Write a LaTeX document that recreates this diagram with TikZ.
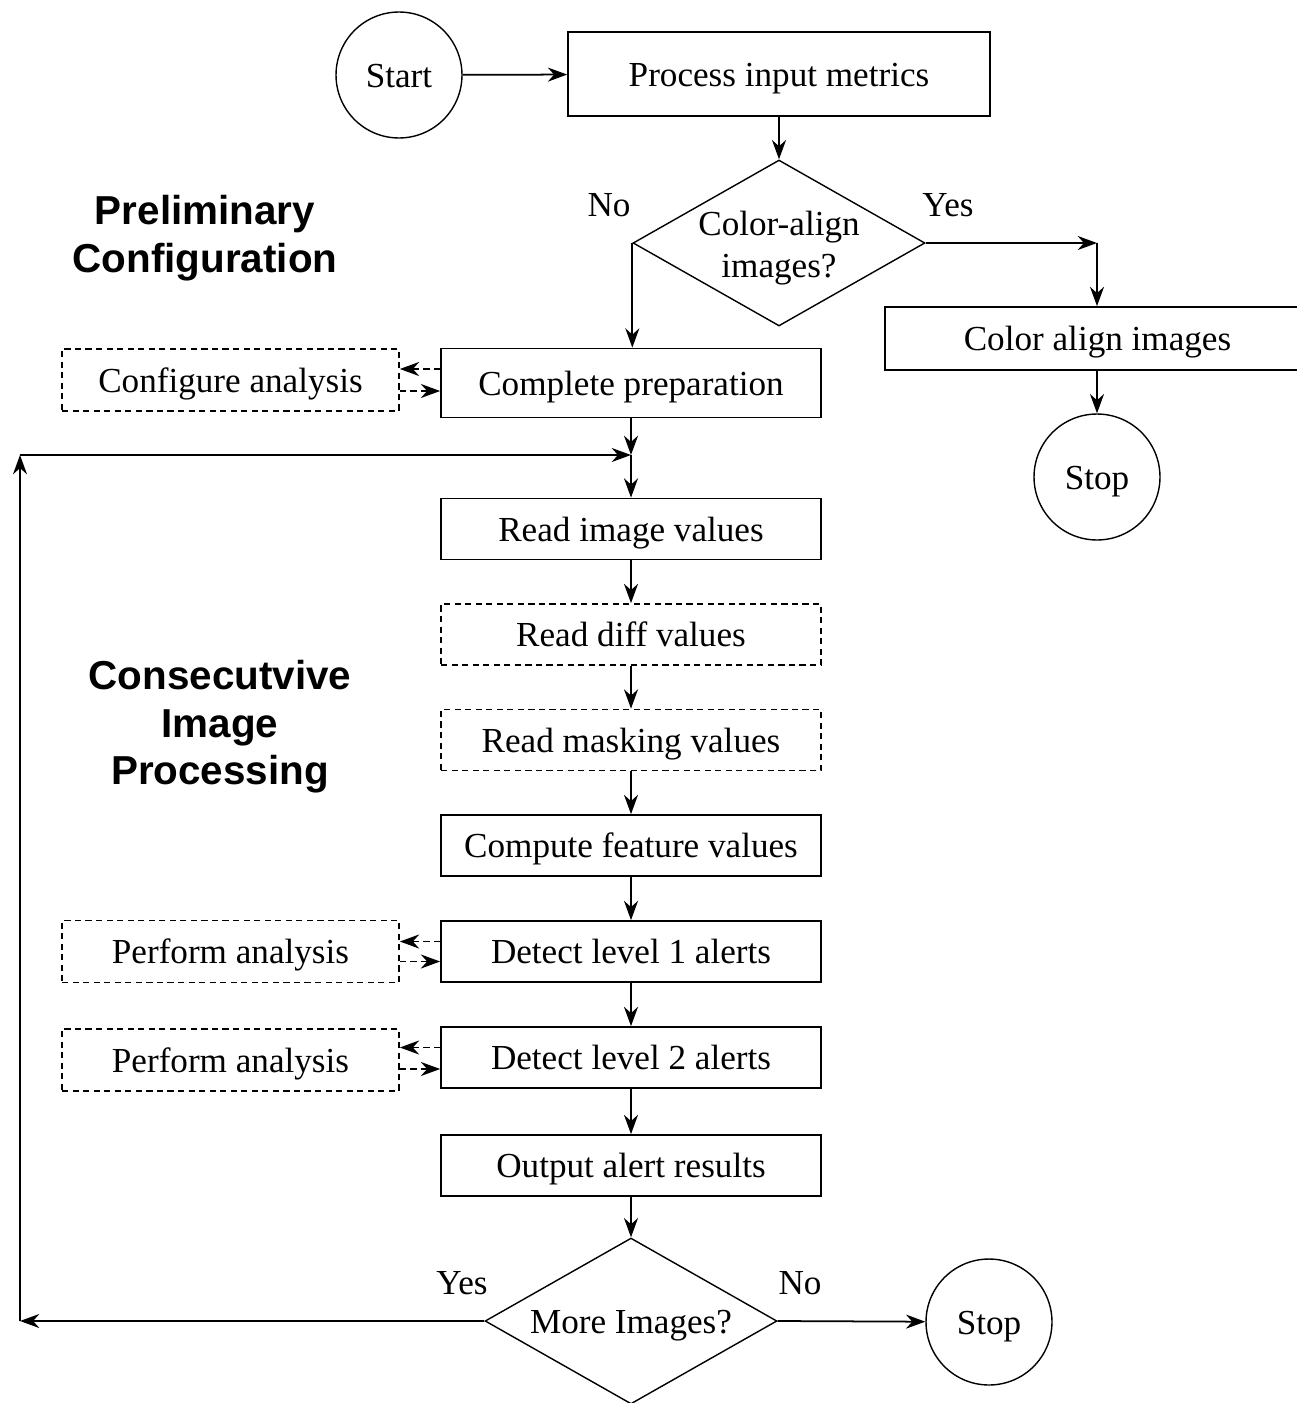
\documentclass[tikz,border=0pt]{standalone}
\usepackage{fontspec}
\setmainfont{Liberation Serif}
\newfontfamily\headfont{Liberation Sans}
\usetikzlibrary{shapes.geometric,arrows.meta}

\begin{document}
\begin{tikzpicture}[x=0.02cm,y=-0.02cm,
    >={Stealth[length=11pt,width=8pt]},
    every node/.style={font=\fontsize{20}{24}\selectfont},
    every path/.style={line width=1pt},
    oneline/.style={text height=14pt,text depth=0pt},
    proc/.style={draw,rectangle,oneline,minimum width=7.6cm,minimum height=1.22cm,inner sep=0pt},
    aux/.style={draw,dashed,dash pattern=on 3.5pt off 2.5pt,rectangle,oneline,minimum width=6.74cm,minimum height=1.24cm,inner sep=0pt},
    endpt/.style={draw,circle,oneline,minimum size=2.52cm,inner sep=0pt,line width=0.8pt},
    decide/.style={draw,diamond,aspect=1.75,minimum width=5.84cm,minimum height=3.32cm,inner sep=0pt,align=center,line width=0.8pt},
    lbl/.style={oneline,inner sep=0pt},
    title/.style={align=center,font=\headfont\bfseries\fontsize{23}{27}\selectfont}]
    \useasboundingbox (0,0) rectangle (1296,1403);
    % Preliminary part
    \node[endpt] (start) at (399,75) {Start};
    \node[proc,minimum width=8.44cm,minimum height=1.68cm] (input) at (779,74) {Process input metrics};
    \node[decide,inner sep=-10pt] (align) at (779,243) {\rule{0pt}{20pt}Color-align\\images?};
    \node[lbl] (noa) at (609,204) {No};
    \node[lbl] (yesa) at (948,204) {Yes};
    \coordinate (yesturn) at (1097,243);
    \node[proc,minimum width=8.5cm,minimum height=1.26cm] (calign) at (1097.5,338.5) {Color align images};
    \node[endpt] (stopa) at (1097,477) {Stop};
    \node[proc,minimum height=1.38cm] (prep) at (631,383) {Complete preparation};
    \node[aux] (config) at (230.5,380) {Configure analysis};
    \node[title] (prelim) at (205,238) {Preliminary\\Configuration};
    \draw[->] (start) -- (input);
    \draw[->] (input) -- (align);
    \draw[->] (align.east) -- (yesturn);
    \draw[->] (yesturn) -- (yesturn |- calign.north);
    \draw[->] (calign.south -| stopa) -- (stopa);
    \draw[->] (align.west) -- (align.west |- prep.north);
    \draw[->,dashed,dash pattern=on 3.5pt off 2.5pt] ([yshift=0.28cm]prep.west) -- ([yshift=0.28cm]prep.west -| config.east);
    \draw[->,dashed,dash pattern=on 3.5pt off 2.5pt] ([yshift=-0.16cm]prep.west -| config.east) -- ([yshift=-0.16cm]prep.west);
    % Image loop
    \coordinate (merge) at (631,455);
    \node[proc] (readimg) at (631,529) {Read image values};
    \node[proc,dashed,dash pattern=on 3.5pt off 2.5pt] (readdiff) at (631,634.5) {Read diff values};
    \node[proc,dashed,dash pattern=on 3.5pt off 2.5pt] (readmask) at (631,740) {Read masking values};
    \node[proc] (feature) at (631,845.5) {Compute feature values};
    \node[proc] (lvla) at (631,951.5) {Detect level 1 alerts};
    \node[aux] (anaa) at (230.5,951.5) {Perform analysis};
    \node[proc] (lvlb) at (631,1057.5) {Detect level 2 alerts};
    \node[aux] (anab) at (230.5,1060) {Perform analysis};
    \node[proc] (output) at (631,1165.5) {Output alert results};
    \node[decide,oneline] (more) at (631,1321) {More Images?};
    \node[lbl] (yesb) at (462,1282) {Yes};
    \node[lbl] (nob) at (800,1282) {No};
    \node[endpt] (stopb) at (989,1322) {Stop};
    \node[title] (consec) at (220,727) {Consecutvive\\Image\\Processing};
    \coordinate (backa) at (20,1321);
    \coordinate (backb) at (20,455);
    \draw[->] (prep) -- (merge);
    \draw[->] (merge) -- (readimg);
    \draw[->] (readimg) -- (readdiff);
    \draw[->] (readdiff) -- (readmask);
    \draw[->] (readmask) -- (feature);
    \draw[->] (feature) -- (lvla);
    \draw[->] (lvla) -- (lvlb);
    \draw[->] (lvlb) -- (output);
    \draw[->] (output) -- (more);
    \draw[->,dashed,dash pattern=on 3.5pt off 2.5pt] ([yshift=0.2cm]lvla.west) -- ([yshift=0.2cm]lvla.west -| anaa.east);
    \draw[->,dashed,dash pattern=on 3.5pt off 2.5pt] ([yshift=-0.2cm]lvla.west -| anaa.east) -- ([yshift=-0.2cm]lvla.west);
    \draw[->,dashed,dash pattern=on 3.5pt off 2.5pt] ([yshift=0.2cm]lvlb.west) -- ([yshift=0.2cm]lvlb.west -| anab.east);
    \draw[->,dashed,dash pattern=on 3.5pt off 2.5pt] ([yshift=-0.23cm]lvlb.west -| anab.east) -- ([yshift=-0.23cm]lvlb.west);
    \draw[->] (more.west) -- (backa);
    \draw[->] (backa) -- (backb);
    \draw[->] (backb) -- (merge);
    \draw[->] (more.east) -- (stopb);
\end{tikzpicture}
\end{document}
